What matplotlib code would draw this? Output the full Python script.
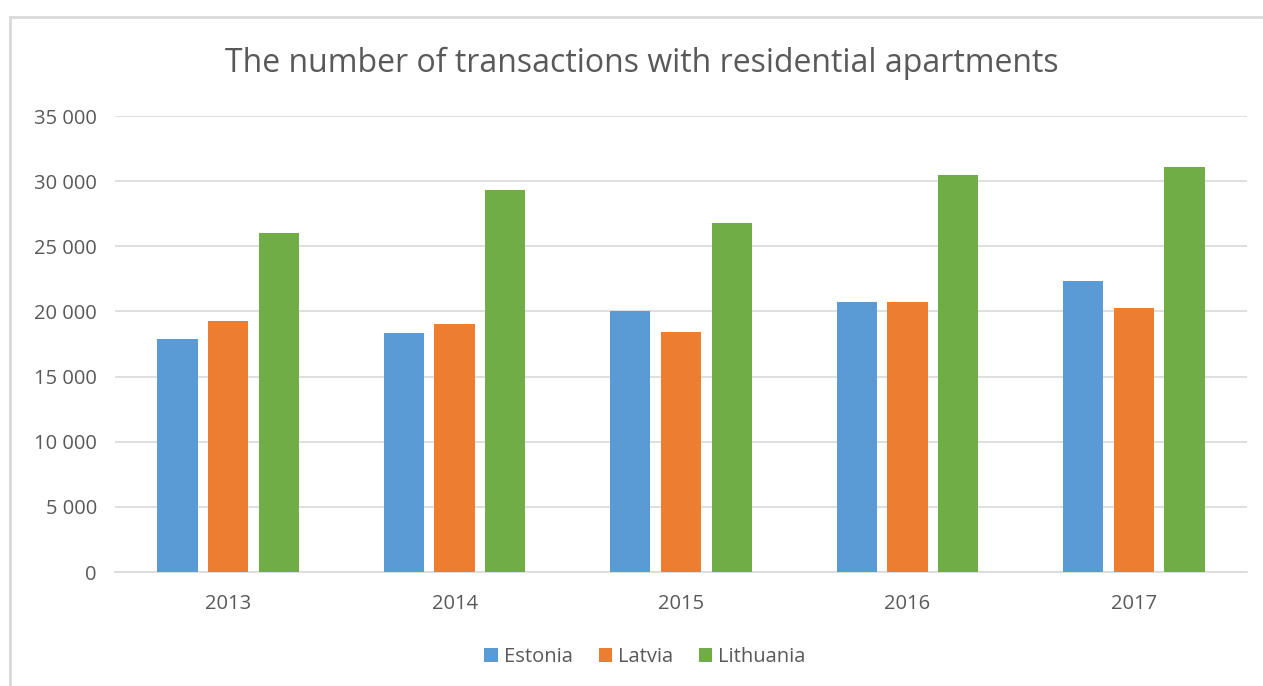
import numpy as np
import matplotlib.pyplot as plt
from matplotlib.lines import Line2D
from matplotlib.ticker import FuncFormatter, MultipleLocator

years = ["2013", "2014", "2015", "2016", "2017"]
estonia = [17850, 18350, 20000, 20700, 22300]
latvia = [19300, 19050, 18450, 20700, 20300]
lithuania = [26000, 29350, 26800, 30500, 31100]

series = [("Estonia", estonia, "#5B9BD5"),
          ("Latvia", latvia, "#ED7D31"),
          ("Lithuania", lithuania, "#70AD47")]

txt = "#595959"
grid = "#D9D9D9"
plt.rcParams["font.family"] = ["Open Sans", "DejaVu Sans"]

W, H = 1263, 686
fig = plt.figure(figsize=(W / 100, H / 100), dpi=100)
ax = fig.add_axes([115 / W, 1 - 572 / H, (1247 - 115) / W, (572 - 116) / H])

x = np.arange(len(years))
step = 0.224
bw = 0.178
for i, (name, vals, col) in enumerate(series):
    ax.bar(x + (i - 1) * step, vals, width=bw, color=col, label=name, zorder=3)

ax.set_xlim(-0.5, len(years) - 0.5)
ax.set_ylim(0, 35000)
ax.yaxis.set_major_locator(MultipleLocator(5000))
ax.yaxis.set_major_formatter(FuncFormatter(lambda v, p: f"{int(v):,}".replace(",", " ")))
ax.grid(axis="y", color=grid, linewidth=1.2, zorder=0)
ax.set_xticks(x)
ax.set_xticklabels(years)
for s in ["top", "right", "left"]:
    ax.spines[s].set_visible(False)
ax.spines["bottom"].set_color(grid)
ax.spines["bottom"].set_linewidth(1.2)
ax.tick_params(axis="both", length=0, labelsize=14.5, colors=txt)
ax.tick_params(axis="y", pad=13)
ax.tick_params(axis="x", pad=16)

fig.text(642 / W, 1 - 63 / H, "The number of transactions with residential apartments",
         ha="center", va="center", fontsize=23, color=txt)

leg = fig.legend(loc="center", bbox_to_anchor=(645 / W, 1 - 657 / H), ncol=3,
                 frameon=False, fontsize=14.5, handlelength=0.65, handleheight=0.65,
                 handletextpad=0.3, columnspacing=1.3)
for t in leg.get_texts():
    t.set_color(txt)

# outer chart frame (left and top edges visible)
fig.add_artist(Line2D([10 / W, 10 / W], [0, 1 - 17 / H], color=grid, linewidth=2))
fig.add_artist(Line2D([10 / W, 1], [1 - 17 / H, 1 - 17 / H], color=grid, linewidth=2))

fig.savefig("out.png", dpi=100)
